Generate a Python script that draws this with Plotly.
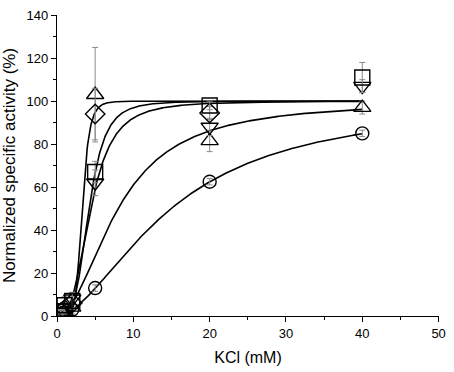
import numpy as np
import plotly.graph_objects as go

# Measured data (KCl mM vs normalized activity %)
kcl = [0.5, 1, 2, 5, 20, 40]
kcl_diamond = [0.5, 1, 2, 5, 20]

circle_y = [1, 1.5, 3, 13, 62.5, 85]
circle_err = [1, 1, 1, 1.5, 1.5, 1.5]

triup_y = [1, 2, 4, 103, 81.5, 97]
triup_err = [1, 2, 3, 22, 5, 3]

tridown_y = [2, 4, 8, 62, 88, 107]
tridown_err = [1, 2, 3, 6, 4, 3]

diamond_y = [1.5, 3, 6, 94, 94.5]
diamond_err = [1, 2, 3, 12, 3]

square_y = [2, 5, 7, 67, 98, 111]
square_err = [1, 4, 4, 5, 2, 7]

# Hill fit parameters (Vmax, K0.5, n) for each fitted curve
fit_names = ["diamond", "square", "triangle-down", "triangle-up", "circle"]
fit_vmax = [100, 100, 100, 100, 100]
fit_k = [3.3, 4.2, 4.4, 8.0, 14.95]
fit_n = [7.0, 4.0, 3.0, 2.0, 1.75]

fig = go.Figure()

xf = np.linspace(0.01, 40, 600)
for vm, k, n in zip(fit_vmax, fit_k, fit_n):
    yf = vm * xf**n / (k**n + xf**n)
    fig.add_trace(go.Scatter(x=xf, y=yf, mode="lines",
                             line=dict(color="black", width=1.6),
                             showlegend=False, hoverinfo="skip"))

series = [
    (kcl, circle_y, circle_err, "circle-open"),
    (kcl, triup_y, triup_err, "triangle-up-open"),
    (kcl, tridown_y, tridown_err, "triangle-down-open"),
    (kcl_diamond, diamond_y, diamond_err, "diamond-open"),
    (kcl, square_y, square_err, "square-open"),
]
for xs, ys, es, sym in series:
    fig.add_trace(go.Scatter(
        x=xs, y=ys, mode="markers",
        marker=dict(symbol=sym, size=13 if "circle" in sym else 15,
                    color="black", line=dict(width=1.4, color="black")),
        error_y=dict(type="data", array=es, visible=True,
                     color="#8a8a8a", thickness=1, width=3),
        showlegend=False))

axis_font = dict(family="Liberation Sans, Arial, sans-serif", size=13, color="black")
fig.update_layout(
    width=454, height=372,
    margin=dict(l=57, r=9, t=8, b=53),
    paper_bgcolor="white", plot_bgcolor="white",
    font=axis_font,
    xaxis=dict(range=[0, 50.05], dtick=10, tick0=0, showgrid=False, zeroline=False,
               showline=True, linecolor="black", linewidth=1.2,
               ticks="outside", ticklen=5, tickwidth=1.2, tickcolor="black",
               minor=dict(dtick=5, ticks="outside", ticklen=3, tickwidth=1.2, tickcolor="black"),
               title=dict(text="KCl (mM)", font=dict(size=16), standoff=12),
               tickfont=axis_font),
    yaxis=dict(range=[0, 140.1], dtick=20, tick0=0, showgrid=False, zeroline=False,
               showline=True, linecolor="black", linewidth=1.2,
               ticks="outside", ticklen=5, tickwidth=1.2, tickcolor="black",
               minor=dict(dtick=10, ticks="outside", ticklen=3, tickwidth=1.2, tickcolor="black"),
               title=dict(text="Normalized specific activity (%)", font=dict(size=17), standoff=6),
               tickfont=axis_font),
)

fig.write_html("out.html", config={"displayModeBar": False},
               post_script="document.body.style.margin='0';")
